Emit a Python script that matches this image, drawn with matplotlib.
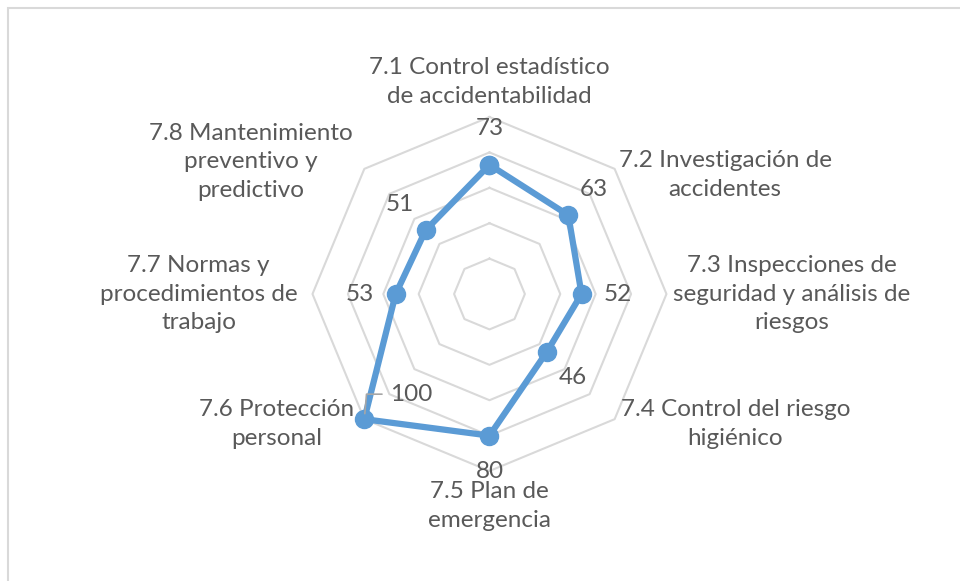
import numpy as np
import matplotlib.pyplot as plt
from matplotlib.patches import Rectangle

plt.rcParams['font.family'] = ['Lato', 'DejaVu Sans']

categorias = ['7.1 Control estadístico\nde accidentabilidad',
              '7.2 Investigación de\naccidentes',
              '7.3 Inspecciones de\nseguridad y análisis de\nriesgos',
              '7.4 Control del riesgo\nhigiénico',
              '7.5 Plan de\nemergencia',
              '7.6 Protección\npersonal',
              '7.7 Normas y\nprocedimientos de\ntrabajo',
              '7.8 Mantenimiento\npreventivo y\npredictivo']
valores = [73, 63, 52, 46, 80, 100, 53, 51]
niveles = [20, 40, 60, 80, 100]

texto = '#595959'
azul = '#5B9BD5'
gris = '#D9D9D9'
fs = 17.5

n = len(valores)
ang = np.arange(n) * 2 * np.pi / n

fig = plt.figure(figsize=(9.6, 5.81), dpi=100)
fig.patches.append(Rectangle((8 / 960, -0.1), 1.2, 1.1 - 8 / 581, transform=fig.transFigure,
                             fill=False, edgecolor='#D9D9D9', lw=1.5, zorder=0))

ax = fig.add_axes([0.3255, 0.1893, 0.36875, 0.6093], projection='polar')
ax.set_theta_zero_location('N')
ax.set_theta_direction(-1)
ax.set_ylim(0, 100)
ax.grid(False)
ax.set_xticks([])
ax.set_yticks([])
ax.spines['polar'].set_visible(False)
ax.patch.set_alpha(0)

ang_c = np.append(ang, ang[0])
for r in niveles:
    ax.plot(ang_c, [r] * (n + 1), color=gris, lw=1.5, zorder=1, clip_on=False)

ax.plot(ang_c, valores + valores[:1], color=azul, lw=4.5, zorder=3, clip_on=False,
        marker='o', markersize=13, solid_joinstyle='round')

# etiquetas de datos
for a, v in zip(ang, valores):
    if v == 100:
        ax.annotate(str(v), xy=(a, v), xytext=(26, 25), textcoords='offset pixels',
                    ha='left', va='center', fontsize=fs, color=texto,
                    arrowprops=dict(arrowstyle='-', color='#A6A6A6', lw=1.2,
                                    connectionstyle='angle,angleA=0,angleB=85',
                                    shrinkA=4, shrinkB=4))
        continue
    ox, oy = 36 * np.sin(a), 36 * np.cos(a)
    ax.annotate(str(v), xy=(a, v), xytext=(ox, oy), textcoords='offset pixels',
                ha='center', va='center', fontsize=fs, color=texto)

# etiquetas de categorias
pos = [((0, 10), 'center', 'bottom'),
       ((4, -6), 'left', 'center'),
       ((7, 0), 'left', 'center'),
       ((6, -5), 'left', 'center'),
       ((0, -10), 'center', 'top'),
       ((-10, -5), 'right', 'center'),
       ((-15, 0), 'right', 'center'),
       ((-12, 7), 'right', 'center')]
for a, c, (off, ha, va) in zip(ang, categorias, pos):
    ax.annotate(c, xy=(a, 100), xytext=off, textcoords='offset pixels',
                ha=ha, va=va, multialignment='center', fontsize=fs,
                color=texto, linespacing=1.45)

fig.savefig('out.png', dpi=100)
